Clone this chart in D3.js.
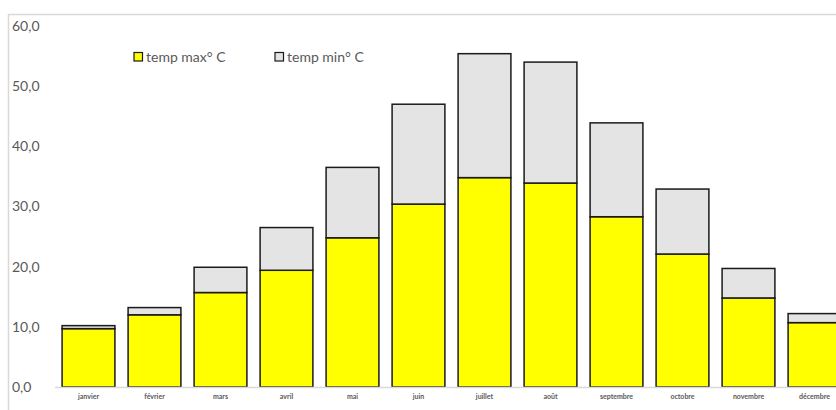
<!DOCTYPE html>
<html>
<head>
<meta charset="utf-8">
<script src="https://cdn.jsdelivr.net/npm/d3@7"></script>
<style>
  html, body { margin: 0; padding: 0; background: #fff; }
  svg { display: block; }
</style>
</head>
<body>
<div id="chart"></div>
<script>
// Monthly temperatures, stacked: max at the bottom, min on top
const months = ["janvier", "février", "mars", "avril", "mai", "juin",
                "juillet", "août", "septembre", "octobre", "novembre", "décembre"];
const tempMax = [9.7, 12.0, 15.7, 19.4, 24.8, 30.4, 34.8, 33.9, 28.3, 22.1, 14.8, 10.7];
const tempMin = [0.5, 1.2, 4.2, 7.1, 11.7, 16.6, 20.6, 20.1, 15.6, 10.8, 4.9, 1.5];
const seriesNames = ["temp max° C", "temp min° C"];
const yTicks = [0, 10, 20, 30, 40, 50, 60];

const W = 836, H = 410;
const svg = d3.select("#chart").append("svg").attr("width", W).attr("height", H);

const font = "Lato, 'Open Sans', sans-serif";
const textColor = "#595959";

// Chart frame
svg.append("rect")
  .attr("x", 8.5).attr("y", 14.5)
  .attr("width", W + 20).attr("height", H + 20)
  .attr("fill", "#fff").attr("stroke", "#d9d9d9").attr("stroke-width", 1.5);

const x = d3.scaleBand().domain(months).range([55.5, 847.5]).paddingInner(0.2).paddingOuter(0.1);
const y = d3.scaleLinear().domain([0, 60]).range([387, 26]);

// Y axis labels
const yAxis = svg.append("g").attr("transform", "translate(12,0)")
  .call(d3.axisLeft(y).tickValues(yTicks).tickSize(0).tickFormat(d => d3.format(".1f")(d).replace(".", ",")));
yAxis.select(".domain").remove();
yAxis.selectAll("text")
  .attr("x", 0).attr("text-anchor", "start")
  .attr("fill", textColor).style("font-family", font).style("font-size", "14px");

// Stacked bars
const rows = months.map((m, i) => ({ month: m, max: tempMax[i], min: tempMin[i] }));
const stack = d3.stack().keys(["max", "min"])(rows);
const fills = ["#ffff00", "#e4e4e4"];

svg.append("g").selectAll("g").data(stack).join("g")
  .attr("fill", (d, i) => fills[i])
  .selectAll("rect").data(d => d).join("rect")
  .attr("x", d => x(d.data.month))
  .attr("y", d => y(d[1]))
  .attr("width", x.bandwidth())
  .attr("height", d => y(d[0]) - y(d[1]))
  .attr("stroke", "#1a1a1a").attr("stroke-width", 1.5);

// Category axis line
svg.append("line")
  .attr("x1", 55).attr("x2", W).attr("y1", 387.5).attr("y2", 387.5)
  .attr("stroke", "#d9d9d9").attr("stroke-width", 1.5);

// Category labels
const xAxis = svg.append("g").attr("transform", "translate(0,388)")
  .call(d3.axisBottom(x).tickSize(0).tickPadding(6));
xAxis.select(".domain").remove();
xAxis.selectAll("text")
  .attr("fill", textColor).style("font-family", font)
  .style("font-size", "7px").style("font-weight", "bold");

// Legend
const legend = svg.append("g");
const legendX = [134, 275];
seriesNames.forEach((name, i) => {
  legend.append("rect")
    .attr("x", legendX[i]).attr("y", 52.5).attr("width", 8.5).attr("height", 8.5)
    .attr("fill", fills[i]).attr("stroke", "#1a1a1a").attr("stroke-width", 1.2);
  legend.append("text")
    .attr("x", legendX[i] + 12).attr("y", 62)
    .attr("fill", textColor).style("font-family", font).style("font-size", "14px")
    .text(name);
});
</script>
</body>
</html>
